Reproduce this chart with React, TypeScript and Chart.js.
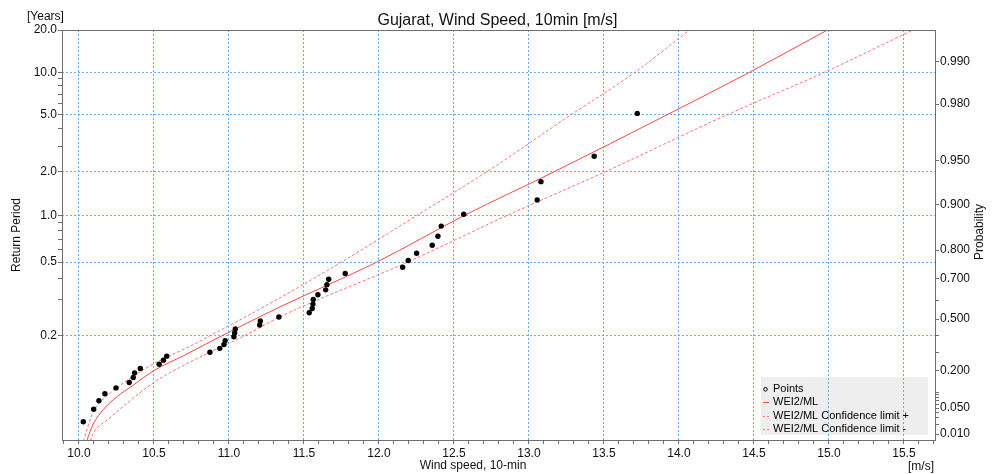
import React, { useEffect, useRef } from 'react';
import { Chart, Scale, registerables } from 'chart.js';

Chart.register(...registerables);

// ---------- texts ----------
const TITLE = 'Gujarat, Wind Speed, 10min [m/s]';
const X_TITLE = 'Wind speed, 10-min';
const X_UNIT = '[m/s]';
const Y_TITLE = 'Return Period';
const Y_UNIT = '[Years]';
const Y2_TITLE = 'Probability';
const LEGEND_LABELS = ['Points', 'WEI2/ML', 'WEI2/ML Confidence limit +', 'WEI2/ML Confidence limit -'];

// ---------- data ----------
const EVENTS_PER_YEAR = 8.4;

const POINT_X = [
  10.029, 10.098, 10.133, 10.173, 10.247, 10.335, 10.362, 10.371, 10.409, 10.535,
  10.563, 10.585, 10.873, 10.939, 10.967, 10.975, 11.033, 11.038, 11.042, 11.205,
  11.209, 11.333, 11.535, 11.555, 11.56, 11.562, 11.593, 11.645, 11.653, 11.665,
  11.775, 12.158, 12.195, 12.251, 12.355, 12.393, 12.415, 12.565, 13.055, 13.08,
  13.435, 13.722,
];
const POINT_T = [
  0.1219, 0.1249, 0.128, 0.1313, 0.1347, 0.1384, 0.1422, 0.1463, 0.1506, 0.1551,
  0.16, 0.1651, 0.1706, 0.1765, 0.1828, 0.1896, 0.1969, 0.2048, 0.2133, 0.2226,
  0.2327, 0.2438, 0.256, 0.2694, 0.2844, 0.3011, 0.3199, 0.3413, 0.3657, 0.3938,
  0.4266, 0.4654, 0.5119, 0.5688, 0.6399, 0.7313, 0.8532, 1.0238, 1.2798, 1.7063,
  2.5595, 5.119,
];

const FIT_X = [10.04, 10.095, 10.162, 10.251, 10.362, 10.503, 10.7, 10.96, 11.34, 11.985, 12.565, 13.17, 13.92, 14.47, 14.99];
const FIT_T = [0.1195, 0.1215, 0.1248, 0.1297, 0.1365, 0.1488, 0.166, 0.2, 0.2749, 0.5, 1.0, 2.0, 5.0, 10.0, 20.0];

const UPPER_X = [10.02, 10.095, 10.207, 10.318, 10.502, 10.762, 10.88, 11.03, 11.34, 11.75, 12.25, 12.72, 13.28, 13.707, 14.07];
const UPPER_T = [0.1195, 0.1241, 0.1315, 0.1397, 0.156, 0.1824, 0.2, 0.2267, 0.3079, 0.5, 1.0, 2.0, 5.0, 10.0, 20.0];

const LOWER_X = [10.065, 10.095, 10.207, 10.318, 10.502, 10.7, 10.873, 11.03, 11.11, 11.34, 12.19, 12.85, 13.51, 14.32, 14.97, 15.56];
const LOWER_T = [0.1195, 0.1203, 0.1227, 0.1269, 0.1386, 0.154, 0.1706, 0.1885, 0.2, 0.2441, 0.5, 1.0, 2.0, 5.0, 10.0, 20.0];

// ---------- axes ----------
const X_MIN = 9.887;
const X_MAX = 15.707;
const X_MAJOR = [10.0, 10.5, 11.0, 11.5, 12.0, 12.5, 13.0, 13.5, 14.0, 14.5, 15.0, 15.5];
const X_MINOR_STEP = 0.1;

const T_MIN = 0.1198;
const T_MAX = 20;
const T_MAJOR = [0.2, 0.5, 1, 2, 5, 10, 20];
const T_MINOR = [0.3, 0.4, 0.6, 0.7, 0.8, 0.9, 3, 4, 6, 7, 8, 9];

const P_MAJOR = [0.01, 0.05, 0.2, 0.5, 0.7, 0.8, 0.9, 0.95, 0.98, 0.99];
const P_MINOR = [0.02, 0.03, 0.04, 0.06, 0.07, 0.08, 0.09, 0.1, 0.3, 0.4, 0.6];

// ---------- styles ----------
const FONT = '"Liberation Sans", Arial, sans-serif';
const GRID = 'rgba(70,160,255,0.85)';
const AXIS = '#6e6e6e';
const TEXT = '#111111';
const RED = 'rgb(255,70,70)';
const RED_DASH = 'rgba(255,90,90,0.85)';

// ---------- Gumbel probability scale ----------
const gumbel = (p: number) => -Math.log(-Math.log(p));
const probOfT = (t: number) => 1 - 1 / (EVENTS_PER_YEAR * t);

class GumbelScale extends Scale {
  static id = 'gumbel';
  static defaults = {};
  g0: number = 0;
  g1: number = 1;
  toG(v: number) {
    const p = (this.options as any).kind === 'T' ? probOfT(v) : v;
    return gumbel(p);
  }
  fromG(g: number) {
    const p = Math.exp(-Math.exp(-g));
    return (this.options as any).kind === 'T' ? 1 / (EVENTS_PER_YEAR * (1 - p)) : p;
  }
  parse(raw: any) {
    const v = Number(raw);
    return Number.isFinite(v) ? v : null;
  }
  determineDataLimits() {
    this.min = (this.options as any).min;
    this.max = (this.options as any).max;
  }
  buildTicks() {
    const isT = (this.options as any).kind === 'T';
    const major = isT ? T_MAJOR : P_MAJOR;
    const minor = isT ? T_MINOR : P_MINOR;
    const list = [
      ...major.map((v) => ({ value: v, major: true })),
      ...minor.map((v) => ({ value: v, major: false })),
    ];
    list.sort((a, b) => a.value - b.value);
    return list as any;
  }
  configure() {
    super.configure();
    this.g0 = this.toG(this.min);
    this.g1 = this.toG(this.max);
  }
  getLabelForValue(v: number) {
    return String(v);
  }
  getPixelForValue(v: number) {
    return this.getPixelForDecimal((this.toG(v) - this.g0) / (this.g1 - this.g0));
  }
  getValueForPixel(px: number) {
    return this.fromG(this.g0 + this.getDecimalForPixel(px) * (this.g1 - this.g0));
  }
}
Chart.register(GumbelScale as any);

const pairs = (xs: number[], ys: number[]) => xs.map((x, i) => ({ x, y: ys[i] }));

const xTicks = () => {
  const out: { value: number; major: boolean }[] = [];
  const start = Math.ceil(X_MIN / X_MINOR_STEP - 1e-9);
  const end = Math.floor(X_MAX / X_MINOR_STEP + 1e-9);
  for (let k = start; k <= end; k++) {
    const v = Math.round(k * X_MINOR_STEP * 1000) / 1000;
    out.push({ value: v, major: X_MAJOR.some((m) => Math.abs(m - v) < 1e-6) });
  }
  return out;
};

const gridColor = (c: any) => (c.tick && c.tick.major ? GRID : 'rgba(0,0,0,0)');

const decoPlugin = {
  id: 'deco',
  beforeDraw(chart: any) {
    const { ctx, chartArea: a } = chart;
    ctx.save();
    ctx.fillStyle = '#eeeeee';
    ctx.fillRect(a.right - 174, a.bottom - 63, 167, 58);
    ctx.restore();
  },
  beforeDatasetsDraw(chart: any) {
    const { ctx, chartArea: a } = chart;
    ctx.save();
    ctx.strokeStyle = AXIS;
    ctx.lineWidth = 1;
    ctx.strokeRect(Math.round(a.left) + 0.5, Math.round(a.top) + 0.5, Math.round(a.right - a.left), Math.round(a.bottom - a.top));
    ctx.restore();
  },
  afterDraw(chart: any) {
    const { ctx, chartArea: a } = chart;
    ctx.save();
    ctx.fillStyle = TEXT;
    // title
    ctx.font = `16px ${FONT}`;
    ctx.textAlign = 'center';
    ctx.textBaseline = 'alphabetic';
    ctx.fillText(TITLE, (a.left + a.right) / 2 - 1, 25);
    // units
    ctx.font = `12px ${FONT}`;
    ctx.textAlign = 'left';
    ctx.fillText(Y_UNIT, 27, 20);
    ctx.textAlign = 'right';
    ctx.fillText(X_UNIT, a.right - 1, 470);
    // x title
    ctx.textAlign = 'center';
    ctx.fillText(X_TITLE, 473, 469);
    // y titles
    ctx.textBaseline = 'middle';
    ctx.save();
    ctx.translate(17, (a.top + a.bottom) / 2);
    ctx.rotate(-Math.PI / 2);
    ctx.fillText(Y_TITLE, 0, 0);
    ctx.restore();
    ctx.save();
    ctx.translate(980, 232);
    ctx.rotate(-Math.PI / 2);
    ctx.fillText(Y2_TITLE, 0, 0);
    ctx.restore();
    // legend
    const lx = a.right - 174;
    const ly = a.bottom - 63;
    ctx.font = `11px ${FONT}`;
    ctx.textAlign = 'left';
    ctx.textBaseline = 'middle';
    LEGEND_LABELS.forEach((label, i) => {
      const y = ly + 12.3 + 13.1 * i;
      if (i === 0) {
        ctx.beginPath();
        ctx.strokeStyle = '#000';
        ctx.lineWidth = 1;
        ctx.arc(lx + 4.5, y, 1.8, 0, Math.PI * 2);
        ctx.stroke();
      } else if (i === 1) {
        ctx.beginPath();
        ctx.strokeStyle = RED;
        ctx.lineWidth = 1;
        ctx.moveTo(lx + 2, Math.round(y) + 0.5);
        ctx.lineTo(lx + 8, Math.round(y) + 0.5);
        ctx.stroke();
      } else {
        ctx.beginPath();
        ctx.strokeStyle = RED_DASH;
        ctx.lineWidth = 1;
        ctx.moveTo(lx + 2, Math.round(y) + 0.5);
        ctx.lineTo(lx + 4, Math.round(y) + 0.5);
        ctx.moveTo(lx + 6, Math.round(y) + 0.5);
        ctx.lineTo(lx + 8, Math.round(y) + 0.5);
        ctx.stroke();
      }
      ctx.fillStyle = '#000';
      ctx.fillText(label, lx + 12, y);
    });
    ctx.restore();
  },
};

export default function App() {
  const ref = useRef<HTMLCanvasElement | null>(null);
  useEffect(() => {
    if (!ref.current) return;
    Chart.defaults.font.family = FONT;
    Chart.defaults.color = TEXT;
    const chart = new Chart(ref.current, {
      type: 'scatter',
      data: {
        datasets: [
          {
            label: LEGEND_LABELS[0],
            data: pairs(POINT_X, POINT_T),
            showLine: false,
            pointRadius: 2.7,
            pointBackgroundColor: '#000',
            pointBorderWidth: 0,
            yAxisID: 'y',
          },
          {
            label: LEGEND_LABELS[1],
            data: pairs(FIT_X, FIT_T),
            showLine: true,
            pointRadius: 0,
            borderColor: RED,
            borderWidth: 1,
            cubicInterpolationMode: 'monotone',
            yAxisID: 'y',
          },
          {
            label: LEGEND_LABELS[2],
            data: pairs(UPPER_X, UPPER_T),
            showLine: true,
            pointRadius: 0,
            borderColor: RED_DASH,
            borderWidth: 1,
            borderDash: [3, 2],
            cubicInterpolationMode: 'monotone',
            yAxisID: 'y',
          },
          {
            label: LEGEND_LABELS[3],
            data: pairs(LOWER_X, LOWER_T),
            showLine: true,
            pointRadius: 0,
            borderColor: RED_DASH,
            borderWidth: 1,
            borderDash: [3, 2],
            cubicInterpolationMode: 'monotone',
            yAxisID: 'y',
          },
        ],
      } as any,
      options: {
        responsive: false,
        animation: false,
        events: [],
        devicePixelRatio: 1,
        layout: { padding: { top: 30, left: 0, right: 0, bottom: 0 } },
        plugins: {
          legend: { display: false },
          title: { display: false },
          tooltip: { enabled: false },
        },
        scales: {
          x: {
            type: 'linear',
            position: 'bottom',
            min: X_MIN,
            max: X_MAX,
            bounds: 'data',
            afterBuildTicks: (s: any) => {
              s.ticks = xTicks();
            },
            afterFit: (s: any) => {
              s.height = 34;
            },
            ticks: {
              autoSkip: false,
              maxRotation: 0,
              padding: 2,
              color: TEXT,
              font: { size: 12 },
              callback: (v: any, i: number, t: any[]) => (t[i] && t[i].major ? Number(v).toFixed(1) : ''),
            },
            grid: { color: gridColor, tickColor: AXIS, tickLength: 4, lineWidth: 1, drawTicks: true },
            border: { display: false, dash: [2, 2] },
          },
          y: {
            type: 'gumbel',
            kind: 'T',
            position: 'left',
            min: T_MIN,
            max: T_MAX,
            afterFit: (s: any) => {
              s.width = 62;
            },
            ticks: {
              autoSkip: false,
              padding: 1,
              color: TEXT,
              font: { size: 12 },
              callback: (v: any, i: number, t: any[]) => (t[i] && t[i].major ? Number(v).toFixed(1) : ''),
            },
            grid: {
              color: (c: any) => (c.tick && c.tick.major && c.tick.value < T_MAX ? GRID : 'rgba(0,0,0,0)'),
              tickColor: AXIS,
              tickLength: 4,
              lineWidth: 1,
            },
            border: { display: false, dash: [2, 2] },
          },
          y2: {
            type: 'gumbel',
            kind: 'P',
            position: 'right',
            min: probOfT(T_MIN),
            max: probOfT(T_MAX),
            afterFit: (s: any) => {
              s.width = 57;
            },
            ticks: {
              autoSkip: false,
              padding: 1,
              color: TEXT,
              font: { size: 12 },
              callback: (v: any, i: number, t: any[]) => (t[i] && t[i].major ? Number(v).toFixed(3) : ''),
            },
            grid: { drawOnChartArea: false, tickColor: AXIS, tickLength: 4, lineWidth: 1 },
            border: { display: false },
          },
        } as any,
      },
      plugins: [decoPlugin],
    } as any);
    return () => chart.destroy();
  }, []);

  return (
    <div style={{ position: 'fixed', left: 0, top: 0, width: 992, height: 474, background: '#fff' }}>
      <canvas ref={ref} width={992} height={474} style={{ display: 'block', width: 992, height: 474 }} />
    </div>
  );
}
